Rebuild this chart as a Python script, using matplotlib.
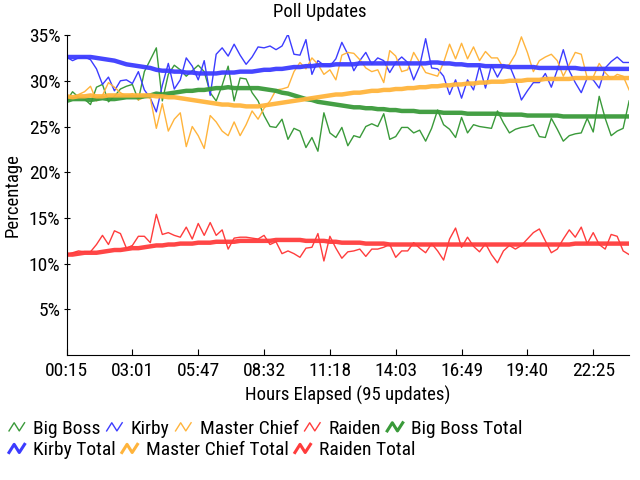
import numpy as np
import matplotlib
matplotlib.use("Agg")
from matplotlib import pyplot as plt
from matplotlib.lines import Line2D
from matplotlib.legend_handler import HandlerLine2D
from matplotlib import font_manager

# condensed sans like the original, if one is around
avail = {f.name for f in font_manager.fontManager.ttflist}
fams = [f for f in ["Liberation Sans Narrow", "DejaVu Sans Condensed",
                    "Roboto Condensed", "Open Sans Condensed"] if f in avail]
plt.rcParams["font.family"] = fams + ["DejaVu Sans"]
narrow = bool(fams)

# ---- data (percent per update) ----
tick_labels = ["00:15", "03:01", "05:47", "08:32", "11:18",
               "14:03", "16:49", "19:40", "22:25"]

big_boss = [27.8, 28.8, 28.2, 28.0, 27.4, 29.3, 29.6, 27.7, 28.3, 29.1,
            29.4, 29.6, 27.9, 31.0, 32.3, 33.6, 27.8, 30.7, 31.7, 31.2,
            30.5, 31.1, 31.7, 31.0, 28.7, 27.8, 29.5, 31.6, 27.8, 30.3,
            30.2, 28.7, 27.8, 26.2, 25.0, 24.9, 25.8, 23.6, 24.8, 24.5,
            22.7, 23.8, 22.3, 26.5, 24.3, 23.8, 24.9, 22.9, 24.0, 23.8,
            25.0, 25.3, 25.0, 26.4, 23.6, 23.9, 24.9, 24.9, 24.3, 24.6,
            23.4, 24.8, 26.8, 25.2, 24.7, 23.8, 26.0, 24.3, 25.2, 25.0,
            24.9, 24.8, 26.7, 25.4, 24.3, 24.7, 24.9, 25.0, 25.2, 23.9,
            23.8, 25.9, 24.7, 23.4, 24.0, 24.2, 24.3, 25.9, 24.4, 28.3,
            25.9, 24.0, 24.5, 24.8, 27.8]

kirby = [32.6, 32.2, 32.5, 32.6, 32.3, 31.3, 29.6, 30.4, 28.9, 30.0,
         30.1, 29.7, 31.0, 29.0, 28.1, 26.6, 29.5, 31.9, 29.1, 30.1,
         32.5, 31.6, 30.1, 32.2, 28.4, 32.9, 33.6, 32.7, 34.0, 32.8,
         31.8, 32.6, 33.7, 33.6, 33.8, 33.4, 33.8, 35.1, 32.9, 32.8,
         34.5, 30.7, 32.2, 31.7, 31.6, 32.4, 34.2, 32.9, 31.1, 32.2,
         33.1, 31.8, 32.5, 32.2, 30.9, 32.0, 32.6, 32.0, 30.1, 31.6,
         34.6, 31.4, 31.3, 30.5, 28.5, 30.1, 28.1, 30.1, 29.0, 31.6,
         29.2, 31.7, 30.4, 31.6, 31.7, 30.1, 27.9, 28.9, 29.8, 29.8,
         30.8, 29.3, 31.2, 33.4, 31.1, 29.8, 28.7, 30.3, 30.1, 29.2,
         31.4, 32.1, 32.6, 32.0, 32.0]

master_chief = [28.3, 28.0, 28.5, 28.8, 29.4, 27.8, 28.4, 29.8, 29.3, 28.7,
                28.3, 28.6, 27.9, 28.2, 28.1, 24.8, 27.5, 24.5, 25.8, 26.5,
                22.8, 25.0, 24.0, 22.6, 26.2, 25.5, 24.5, 24.0, 25.5, 24.0,
                25.2, 26.7, 25.8, 27.0, 27.8, 29.0, 29.1, 29.3, 31.0, 32.0,
                31.3, 32.5, 31.8, 30.7, 31.2, 30.1, 32.8, 33.1, 33.0, 32.3,
                31.4, 31.0, 31.2, 29.8, 33.3, 32.7, 31.0, 31.2, 33.1, 32.0,
                30.9, 30.7, 30.5, 32.0, 34.0, 32.4, 34.1, 32.4, 33.7, 32.2,
                33.2, 32.5, 32.5, 31.4, 31.8, 32.9, 34.8, 33.1, 31.0, 32.2,
                32.6, 32.9, 32.2, 30.5, 31.8, 33.1, 32.9, 30.3, 30.4, 31.9,
                30.9, 30.2, 30.7, 30.5, 29.0]

raiden = [11.0, 11.2, 11.4, 11.3, 11.3, 12.1, 13.1, 12.1, 13.6, 13.3,
          11.7, 12.0, 13.0, 13.0, 12.3, 15.4, 13.2, 13.4, 13.1, 12.9,
          14.0, 12.7, 14.4, 13.1, 14.5, 13.1, 13.7, 11.6, 12.8, 12.9,
          12.9, 12.8, 12.7, 13.1, 12.1, 12.4, 11.1, 11.4, 11.1, 10.7,
          11.7, 11.8, 13.3, 10.3, 13.0, 11.7, 10.6, 11.3, 11.4, 11.6,
          10.8, 11.6, 11.6, 11.8, 12.1, 10.7, 11.4, 11.4, 12.3, 11.7,
          11.2, 12.2, 11.4, 10.4, 12.7, 13.9, 11.8, 12.9, 11.9, 11.3,
          12.2, 11.0, 10.1, 11.4, 12.0, 11.6, 12.0, 12.7, 13.4, 13.8,
          12.5, 11.2, 11.6, 12.7, 13.7, 12.9, 14.0, 12.2, 13.4, 12.1,
          11.6, 13.2, 13.0, 11.4, 11.0]

big_boss_total = [27.8, 28.0, 28.0, 28.0, 27.9, 28.0, 28.1, 28.0, 28.0, 28.1,
                  28.2, 28.2, 28.2, 28.3, 28.4, 28.6, 28.5, 28.6, 28.7, 28.8,
                  28.9, 28.9, 29.0, 29.0, 29.1, 29.2, 29.2, 29.3, 29.2, 29.2,
                  29.2, 29.2, 29.2, 29.1, 29.0, 28.9, 28.7, 28.6, 28.4, 28.2,
                  28.0, 27.9, 27.7, 27.6, 27.5, 27.4, 27.3, 27.2, 27.1, 27.1,
                  27.0, 27.0, 26.9, 26.9, 26.8, 26.8, 26.7, 26.7, 26.7, 26.6,
                  26.6, 26.6, 26.6, 26.5, 26.5, 26.5, 26.5, 26.4, 26.4, 26.4,
                  26.4, 26.4, 26.4, 26.3, 26.3, 26.3, 26.3, 26.2, 26.2, 26.2,
                  26.2, 26.2, 26.2, 26.1, 26.1, 26.1, 26.1, 26.1, 26.1, 26.1,
                  26.1, 26.1, 26.1, 26.1, 26.1]

kirby_total = [32.6, 32.6, 32.6, 32.6, 32.6, 32.5, 32.4, 32.3, 32.2, 32.0,
               31.8, 31.7, 31.6, 31.5, 31.4, 31.2, 31.1, 31.1, 31.0, 31.0,
               30.9, 30.9, 30.8, 30.8, 30.8, 30.8, 30.9, 30.9, 30.9, 31.0,
               31.0, 31.0, 31.1, 31.2, 31.2, 31.3, 31.3, 31.4, 31.5, 31.5,
               31.6, 31.6, 31.7, 31.7, 31.7, 31.8, 31.8, 31.8, 31.8, 31.9,
               31.9, 31.9, 31.9, 31.9, 31.9, 31.9, 31.9, 31.9, 31.9, 31.9,
               31.9, 32.0, 32.0, 31.9, 31.9, 31.8, 31.8, 31.7, 31.7, 31.7,
               31.6, 31.6, 31.6, 31.6, 31.5, 31.5, 31.5, 31.5, 31.5, 31.4,
               31.4, 31.4, 31.4, 31.4, 31.4, 31.4, 31.3, 31.3, 31.3, 31.3,
               31.3, 31.3, 31.3, 31.3, 31.3]

master_chief_total = [28.3, 28.2, 28.3, 28.3, 28.4, 28.3, 28.3, 28.4, 28.4, 28.4,
                      28.4, 28.4, 28.4, 28.4, 28.4, 28.3, 28.3, 28.2, 28.2, 28.1,
                      28.0, 27.9, 27.8, 27.7, 27.6, 27.5, 27.4, 27.4, 27.3, 27.3,
                      27.2, 27.2, 27.2, 27.3, 27.4, 27.5, 27.6, 27.7, 27.8, 27.9,
                      28.0, 28.1, 28.2, 28.3, 28.4, 28.5, 28.5, 28.6, 28.7, 28.7,
                      28.8, 28.9, 28.9, 29.0, 29.0, 29.1, 29.1, 29.2, 29.2, 29.3,
                      29.3, 29.4, 29.4, 29.5, 29.5, 29.6, 29.6, 29.7, 29.7, 29.8,
                      29.8, 29.9, 29.9, 29.9, 30.0, 30.0, 30.0, 30.1, 30.1, 30.1,
                      30.2, 30.2, 30.2, 30.2, 30.2, 30.3, 30.3, 30.3, 30.3, 30.3,
                      30.3, 30.3, 30.3, 30.3, 30.3]

raiden_total = [11.0, 11.0, 11.1, 11.2, 11.2, 11.2, 11.3, 11.4, 11.5, 11.5,
                11.6, 11.7, 11.7, 11.8, 11.9, 12.0, 12.0, 12.1, 12.1, 12.2,
                12.2, 12.2, 12.3, 12.3, 12.3, 12.4, 12.4, 12.4, 12.4, 12.5,
                12.5, 12.5, 12.5, 12.5, 12.5, 12.6, 12.6, 12.6, 12.6, 12.6,
                12.5, 12.5, 12.5, 12.5, 12.4, 12.4, 12.3, 12.3, 12.3, 12.3,
                12.2, 12.2, 12.2, 12.2, 12.1, 12.1, 12.1, 12.1, 12.1, 12.1,
                12.1, 12.1, 12.1, 12.1, 12.1, 12.1, 12.1, 12.1, 12.1, 12.1,
                12.1, 12.1, 12.1, 12.1, 12.1, 12.1, 12.1, 12.1, 12.1, 12.1,
                12.1, 12.1, 12.1, 12.1, 12.1, 12.2, 12.2, 12.2, 12.2, 12.2,
                12.2, 12.2, 12.2, 12.2, 12.2]

names = ["Big Boss", "Kirby", "Master Chief", "Raiden"]
singles = [big_boss, kirby, master_chief, raiden]
totals = [big_boss_total, kirby_total, master_chief_total, raiden_total]
colors = ["#3a9a3a", "#3c3cff", "#ffb43c", "#ff3c3c"]

fs = 14 if narrow else 11.5


class ZigzagHandler(HandlerLine2D):
    # little "/\/" icon like the original legend
    def create_artists(self, legend, orig_handle, xdescent, ydescent,
                       width, height, fontsize, trans):
        xs = np.array([0.0, 0.33, 0.66, 1.0]) * width - xdescent
        ys = np.array([0.2, 0.8, 0.2, 0.8]) * height - ydescent
        ln = Line2D(xs, ys, color=orig_handle.get_color(),
                    lw=min(orig_handle.get_linewidth(), 2.2))
        ln.set_transform(trans)
        return [ln]


fig = plt.figure(figsize=(6.4, 4.8), dpi=100)
ax = fig.add_axes([0.104, 0.26, 0.879, 0.667])

x = np.arange(len(big_boss))
handles = []
for name, s, c in zip(names, singles, colors):
    h, = ax.plot(x, s, color=c, lw=1.0, label=name)
    handles.append(h)
for name, s, c in zip(names, totals, colors):
    h, = ax.plot(x, s, color=c, lw=3.2, solid_capstyle="butt",
                 label=name + " Total", alpha=0.95)
    handles.append(h)

ax.set_xlim(0, len(big_boss) - 1)
ax.set_ylim(0, 35)
ax.set_xticks(np.arange(0, len(big_boss), 11))
ax.set_xticklabels(tick_labels)
ax.set_yticks([5, 10, 15, 20, 25, 30, 35])
ax.set_yticklabels(["%d%%" % v for v in [5, 10, 15, 20, 25, 30, 35]])
ax.spines["top"].set_visible(False)
ax.spines["right"].set_visible(False)
ax.tick_params(axis="x", direction="in", length=4, labelsize=fs, pad=5)
ax.tick_params(axis="y", direction="inout", length=5, labelsize=fs, pad=2)

fig.text(0.5, 1 - 12 / 480, "Poll Updates", fontsize=fs - 0.5,
         ha="center", va="center")
ax.set_xlabel("Hours Elapsed (95 updates)", fontsize=fs - 0.5, labelpad=4)
ax.set_ylabel("Percentage", fontsize=fs - 0.5, labelpad=1)
ax.yaxis.set_label_coords(-0.08, 0.5)

hmap = {h: ZigzagHandler() for h in handles}
kw = dict(loc="center left", frameon=False, fontsize=fs, handlelength=0.8,
          handletextpad=0.45, columnspacing=0.3, handler_map=hmap,
          borderaxespad=0, borderpad=0.2)
leg1 = fig.legend(handles[:5], [h.get_label() for h in handles[:5]],
                  bbox_to_anchor=(0.008, 0.107), ncol=5, **kw)
leg2 = fig.legend(handles[5:], [h.get_label() for h in handles[5:]],
                  bbox_to_anchor=(0.008, 0.062), ncol=3, **kw)

fig.savefig("out.png", dpi=100)
